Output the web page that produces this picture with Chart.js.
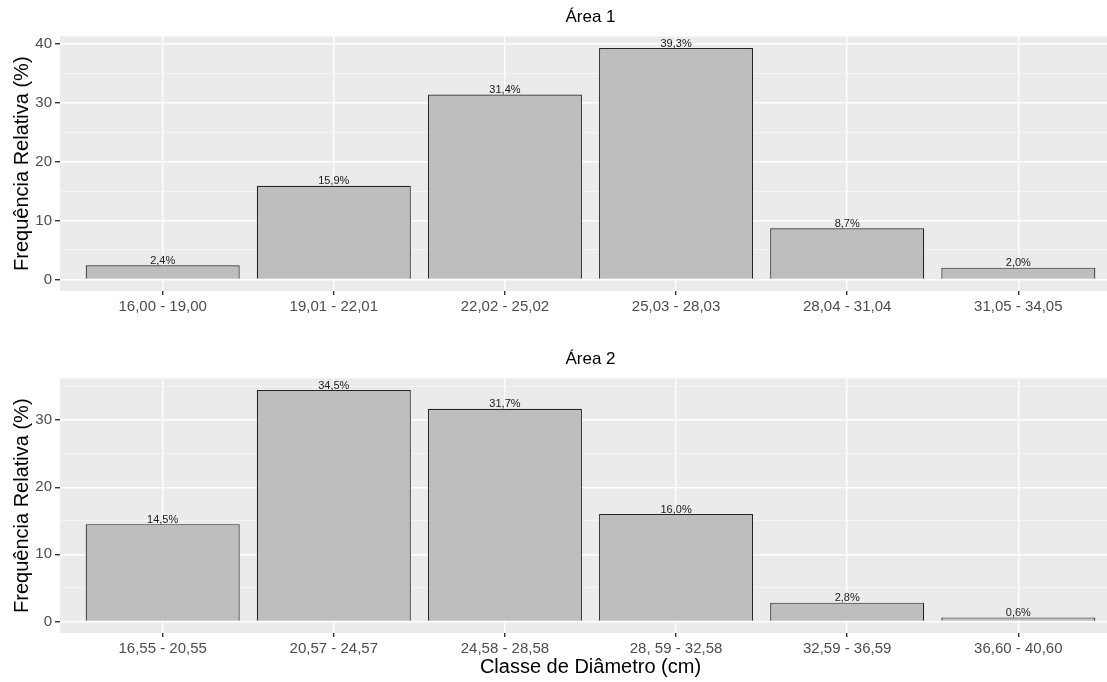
<!DOCTYPE html>
<html>
<head>
<meta charset="utf-8">
<script src="https://cdn.jsdelivr.net/npm/chart.js@4"></script>
<style>
  html, body { margin: 0; padding: 0; background: #fff; overflow: hidden; }
  #wrap { position: relative; width: 1107px; height: 682px; overflow: hidden; }
  #c1 { position: absolute; left: 0; top: 0; }
  #c2 { position: absolute; left: 0; top: 342px; }
</style>
</head>
<body>
<div id="wrap">
  <canvas id="c1" width="1121" height="335"></canvas>
  <canvas id="c2" width="1121" height="340"></canvas>
</div>
<script>
// classes de diâmetro e frequências relativas (%)
const area1Labels = ['16,00 - 19,00', '19,01 - 22,01', '22,02 - 25,02', '25,03 - 28,03', '28,04 - 31,04', '31,05 - 34,05'];
const area1Values = [2.4, 15.9, 31.4, 39.3, 8.7, 2.0];
const area1Ticks = [0, 10, 20, 30, 40];

const area2Labels = ['16,55 - 20,55', '20,57 - 24,57', '24,58 - 28,58', '28, 59 - 32,58', '32,59 - 36,59', '36,60 - 40,60'];
const area2Values = [14.5, 34.5, 31.7, 16.0, 2.8, 0.6];
const area2Ticks = [0, 10, 20, 30];

const FONT = "'Liberation Sans', Arial, sans-serif";
Chart.defaults.font.family = FONT;

// gray panel background like ggplot
const panelBg = {
    id: 'panelBg',
    beforeDraw(chart) {
        const { ctx, chartArea: a } = chart;
        ctx.save();
        ctx.fillStyle = '#EBEBEB';
        ctx.fillRect(a.left, a.top, a.right - a.left, a.bottom - a.top);
        ctx.restore();
    }
};

// percentage text above each bar
const barLabels = {
    id: 'barLabels',
    afterDatasetsDraw(chart) {
        const ctx = chart.ctx;
        const meta = chart.getDatasetMeta(0);
        const values = chart.data.datasets[0].data;
        ctx.save();
        ctx.font = '11px ' + FONT;
        ctx.fillStyle = '#1a1a1a';
        ctx.textAlign = 'center';
        ctx.textBaseline = 'bottom';
        meta.data.forEach((bar, i) => {
            const txt = values[i].y.toFixed(1).replace('.', ',') + '%';
            ctx.fillText(txt, bar.x, bar.y + 1);
        });
        ctx.restore();
    }
};

function makeChart(id, title, labels, values, majorTicks, xTitle, xHeight) {
    const top = Math.max(...values);
    const minor = [];
    for (let v = 0; v <= top * 1.05; v += 5) minor.push(v);

    return new Chart(document.getElementById(id), {
        type: 'bar',
        data: {
            datasets: [{
                data: values.map((v, i) => ({ x: i + 1, y: v })),
                backgroundColor: '#BEBEBE',
                borderColor: '#262626',
                borderWidth: 1.2,
                barPercentage: 0.9,
                categoryPercentage: 1
            }]
        },
        options: {
            responsive: false,
            animation: false,
            layout: { padding: 0 },
            plugins: {
                legend: { display: false },
                tooltip: { enabled: false },
                title: {
                    display: true,
                    text: title,
                    fullSize: false,
                    color: '#000',
                    font: { size: 17, weight: 'normal' },
                    padding: { top: 7, bottom: 9 }
                }
            },
            scales: {
                x: {
                    type: 'linear',
                    min: 0.4,
                    max: 6.6,
                    offset: false,
                    afterBuildTicks: axis => { axis.ticks = labels.map((_, i) => ({ value: i + 1 })); },
                    afterFit: axis => { axis.height = xHeight; },
                    border: { display: false },
                    grid: { offset: false, color: '#FFFFFF', lineWidth: 1.4, tickColor: '#333333', tickLength: 4 },
                    ticks: {
                        autoSkip: false,
                        maxRotation: 0,
                        color: '#4D4D4D',
                        font: { size: 15 },
                        padding: 3,
                        callback: v => labels[v - 1]
                    },
                    title: {
                        display: !!xTitle,
                        text: xTitle || '',
                        color: '#000',
                        font: { size: 20 },
                        padding: { top: 0, bottom: 3 }
                    }
                },
                y: {
                    min: -0.05 * top,
                    max: 1.05 * top,
                    afterBuildTicks: axis => { axis.ticks = minor.map(v => ({ value: v })); },
                    afterFit: axis => { axis.width = 60; },
                    border: { display: false },
                    grid: {
                        color: ctx => ctx.tick && majorTicks.includes(ctx.tick.value) ? '#FFFFFF' : '#F7F7F7',
                        lineWidth: ctx => ctx.tick && majorTicks.includes(ctx.tick.value) ? 1.4 : 0.8,
                        tickColor: ctx => ctx.tick && majorTicks.includes(ctx.tick.value) ? '#333333' : 'rgba(0,0,0,0)',
                        tickLength: 5
                    },
                    ticks: {
                        color: '#4D4D4D',
                        font: { size: 15 },
                        padding: 3,
                        callback: v => majorTicks.includes(v) ? String(v) : ''
                    },
                    title: {
                        display: true,
                        text: 'Frequência Relativa (%)',
                        color: '#000',
                        font: { size: 20 },
                        padding: { top: 10, bottom: 0 }
                    }
                }
            }
        },
        plugins: [panelBg, barLabels]
    });
}

makeChart('c1', 'Área 1', area1Labels, area1Values, area1Ticks, null, 44);
makeChart('c2', 'Área 2', area2Labels, area2Values, area2Ticks, 'Classe de Diâmetro (cm)', 49);
</script>
</body>
</html>
